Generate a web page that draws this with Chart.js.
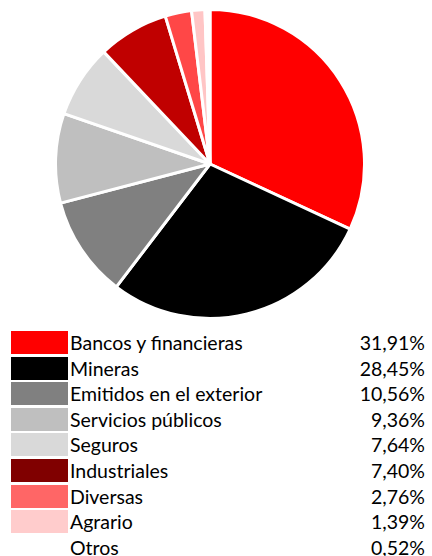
<!DOCTYPE html>
<html>
<head>
<meta charset="utf-8">
<script src="https://cdn.jsdelivr.net/npm/chart.js@4"></script>
<style>
  body { margin: 0; background: #fff; width: 432px; height: 556px; position: relative; overflow: hidden; }
  #pieBox { position: absolute; left: 54px; top: 8px; width: 312px; height: 312px; }
  .row { position: absolute; left: 0; width: 432px; height: 26px; font-family: "Lato", sans-serif; font-size: 19.5px; line-height: 24px; color: #000; }
  .sw { position: absolute; left: 11px; top: 0; width: 57px; height: 23px; }
  .lbl { position: absolute; left: 70px; top: 0; white-space: nowrap; }
  .pct { position: absolute; right: 7px; top: 0; white-space: nowrap; }
</style>
</head>
<body>
<div id="pieBox"><canvas id="myPieChart"></canvas></div>
<div id="legend"></div>
<script>
var labels = ['Bancos y financieras', 'Mineras', 'Emitidos en el exterior', 'Servicios públicos', 'Seguros', 'Industriales', 'Diversas', 'Agrario', 'Otros'];
var shares = [31.91, 28.45, 10.56, 9.36, 7.64, 7.40, 2.76, 1.39, 0.52];
var sliceColors = ['#FF0000', '#000000', '#808080', '#BFBFBF', '#D9D9D9', '#C00000', '#FF4747', '#FFC5C5', '#FFFFFF'];
var swatchColors = ['#FF0000', '#000000', '#808080', '#BFBFBF', '#D9D9D9', '#800000', '#FF6666', '#FFCCCC', '#FFFFFF'];

var legend = document.getElementById('legend');
for (var i = 0; i < labels.length; i++) {
    var row = document.createElement('div');
    row.className = 'row';
    row.style.top = (331 + i * 25.6) + 'px';
    row.innerHTML = '<div class="sw" style="background:' + swatchColors[i] + '"></div>' +
        '<span class="lbl">' + labels[i] + '</span>' +
        '<span class="pct">' + shares[i].toFixed(2).replace('.', ',') + '%</span>';
    legend.appendChild(row);
}

var ctx = document.getElementById('myPieChart');
new Chart(ctx, {
    type: 'pie',
    data: {
        labels: labels,
        datasets: [{
            data: shares,
            backgroundColor: sliceColors,
            borderColor: '#FFFFFF',
            borderWidth: 3
        }]
    },
    options: {
        responsive: true,
        maintainAspectRatio: false,
        animation: false,
        plugins: {
            legend: { display: false },
            tooltip: { enabled: false }
        }
    }
});
</script>
</body>
</html>
